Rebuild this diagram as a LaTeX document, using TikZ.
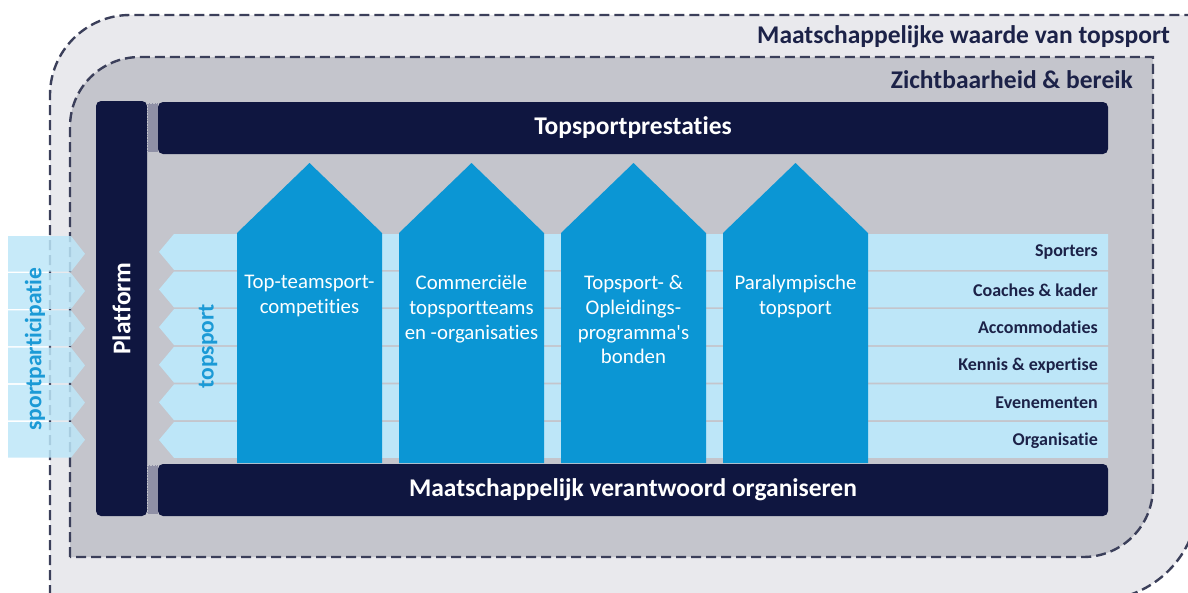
\documentclass[tikz,border=0pt]{standalone}
\usepackage{fontspec}
\setmainfont{Carlito}[Ligatures={NoCommon,NoContextual}]
\definecolor{navy}{HTML}{0F1640}
\definecolor{titlenavy}{HTML}{1C2248}
\definecolor{outergray}{HTML}{E9E9ED}
\definecolor{innergray}{HTML}{C4C5CC}
\definecolor{dashgray}{HTML}{3B3F5A}
\definecolor{linkgray}{HTML}{8F90A6}
\definecolor{pillarblue}{HTML}{0B96D4}
\definecolor{rowblue}{HTML}{BDE6F8}
\definecolor{textblue}{HTML}{1B9AD6}

\begin{document}
\begin{tikzpicture}[x=1pt,y=-1pt,
    zone/.style={draw=dashgray,line width=2.4pt,dash pattern=on 10pt off 5pt},
    bar/.style={fill=navy,text=white,inner sep=0pt,rounded corners=5pt,font=\bfseries\fontsize{25.5}{29}\selectfont},
    link/.style={fill=linkgray,draw=innergray,densely dotted,line width=0.6pt},
    row/.style={fill=rowblue},
    partrow/.style={fill=rowblue,fill opacity=0.85},
    pillar/.style={fill=pillarblue},
    pillartext/.style={anchor=north,align=center,text=white,inner sep=0pt,font=\fontsize{20.8}{24.8}\selectfont},
    rowtext/.style={anchor=east,text=titlenavy,inner sep=0pt,font=\bfseries\fontsize{18}{21}\selectfont},
    zonetext/.style={anchor=east,text=titlenavy,inner sep=0pt,font=\bfseries\fontsize{25.5}{29}\selectfont},
    sidetext/.style={rotate=90,text=textblue,inner sep=0pt,font=\bfseries\fontsize{23.5}{27}\selectfont}]
  \useasboundingbox (0,0) rectangle (1188,592);
  \clip (0,0) rectangle (1188,592);
  \path[zone,fill=outergray] (50,700) -- (50,95) .. controls (50,51) and (86,15) .. (130,15)
    -- (1198,15) -- (1198,500) .. controls (1198,555) and (1153,600) .. (1098,600) -- (-10,600);
  \path[zone,fill=innergray] (70,557) -- (70,127) .. controls (70,88) and (101,57) .. (140,57)
    -- (1153,57) -- (1153,487) .. controls (1153,526) and (1122,557) .. (1083,557) -- cycle;
  \node[zonetext] (W) at (1170,37) {Maatschappelijke waarde van topsport};
  \node[zonetext] (Z) at (1133,80) {Zichtbaarheid \& bereik};
  \foreach \i in {0,...,5}
    \fill[partrow] (8,236+37.2*\i) -- (71,236+37.2*\i) -- (85,253.8+37.2*\i)
      -- (71,271.6+37.2*\i) -- (8,271.6+37.2*\i) -- cycle;
  \node[sidetext] (S) at (35,349) {sportparticipatie};
  \node[bar,rotate=90,minimum width=415pt,minimum height=51pt] (P) at (121.5,308.5) {Platform};
  \fill[link] (147,103) rectangle (158,152);
  \fill[link] (147,465) rectangle (158,514);
  \draw[link] (147,103) rectangle (158,152);
  \draw[link] (147,465) rectangle (158,514);
  \node[bar,minimum width=950pt,minimum height=52pt] (T) at (633,128) {Topsportprestaties};
  \node[bar,minimum width=950pt,minimum height=52pt] (M) at (633,490) {Maatschappelijk verantwoord organiseren};
  \foreach \i/\lab in {0/Sporters,1/Coaches \& kader,2/Accommodaties,3/Kennis \& expertise,4/Evenementen,5/Organisatie}{
    \fill[row] (174,234+37.6*\i) -- (1108,234+37.6*\i) -- (1108,269.8+37.6*\i)
      -- (174,269.8+37.6*\i) -- (159,251.9+37.6*\i) -- cycle;
    \node[rowtext] (R\i) at (1098,252.5+37.6*\i) {\lab};
  }
  \node[sidetext] (S2) at (208,346) {topsport};
  \fill[pillar] (237,463) -- (237,233) -- (309.5,163) -- (382,233) -- (382,463) -- cycle;
  \fill[pillar] (399,463) -- (399,233) -- (471.5,163) -- (544,233) -- (544,463) -- cycle;
  \fill[pillar] (561,463) -- (561,233) -- (633.5,163) -- (706,233) -- (706,463) -- cycle;
  \fill[pillar] (723,463) -- (723,233) -- (795.5,163) -- (868,233) -- (868,463) -- cycle;
  \node[pillartext] (A1) at (309.5,275) {Top-teamsport-\\competities};
  \node[pillartext] (A2) at (471.5,275) {Commerciële\\topsportteams\\en -organisaties};
  \node[pillartext] (A3) at (633.5,275) {Topsport- \&\\Opleidings-\\programma\textquotesingle s\\bonden};
  \node[pillartext] (A4) at (795.5,275) {Paralympische\\topsport};
\end{tikzpicture}
\end{document}
